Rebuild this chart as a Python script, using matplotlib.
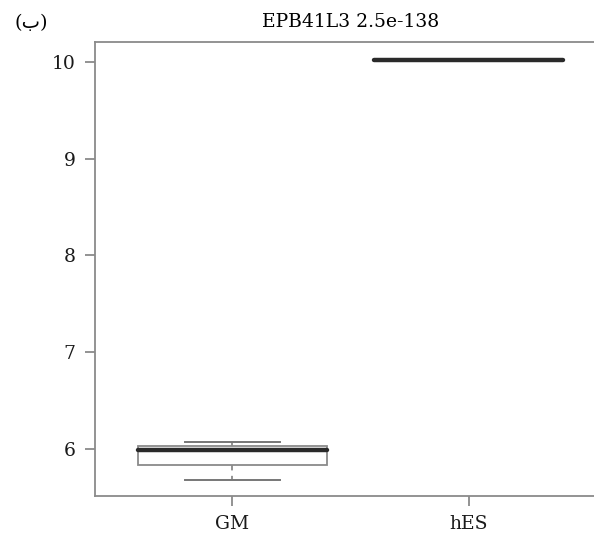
import matplotlib
matplotlib.use("Agg")
from matplotlib import pyplot as plt

# expression summary per group
groups = ["GM", "hES"]
q1 = [5.83, 10.01]
med = [5.99, 10.02]
q3 = [6.025, 10.02]
whislo = [5.68, 10.01]
whishi = [6.065, 10.02]

title = "EPB41L3 2.5e-138"
panel = "(ب)"
yticks = [6, 7, 8, 9, 10]

plt.rcParams['font.family'] = ['DejaVu Serif', 'DejaVu Sans']

fig = plt.figure(figsize=(5.94, 5.36), dpi=100)
ax = fig.add_axes([0.16, 0.0746, 0.86, 0.847])

stats = []
for i in range(len(groups)):
    stats.append(dict(label=groups[i], q1=q1[i], med=med[i], q3=q3[i],
                      whislo=whislo[i], whishi=whishi[i], fliers=[]))

gray = "#8a8a8a"
ax.bxp(stats, positions=[1, 2], widths=0.8, capwidths=0.4,
       patch_artist=True, showfliers=False,
       boxprops=dict(facecolor="white", edgecolor=gray, linewidth=1.3),
       medianprops=dict(color="#2a2a2a", linewidth=3.2, solid_capstyle="round"),
       whiskerprops=dict(color=gray, linewidth=1.3, linestyle=(0, (3, 3))),
       capprops=dict(color="#777777", linewidth=1.4))

ax.set_xlim(0.42, 2.58)
ax.set_ylim(5.51, 10.21)
ax.set_yticks(yticks)
ax.set_yticklabels([str(t) for t in yticks])
ax.tick_params(axis="both", colors=gray, labelcolor="#1a1a1a", labelsize=13.5,
               length=7, width=1.3, pad=7)
for s in ax.spines.values():
    s.set_color(gray)
    s.set_linewidth(1.3)

ax.set_title(title, fontsize=13.5, pad=11)
fig.text(0.052, 0.957, panel, fontsize=14, ha="center", va="center")

fig.savefig("out.png", dpi=100)
